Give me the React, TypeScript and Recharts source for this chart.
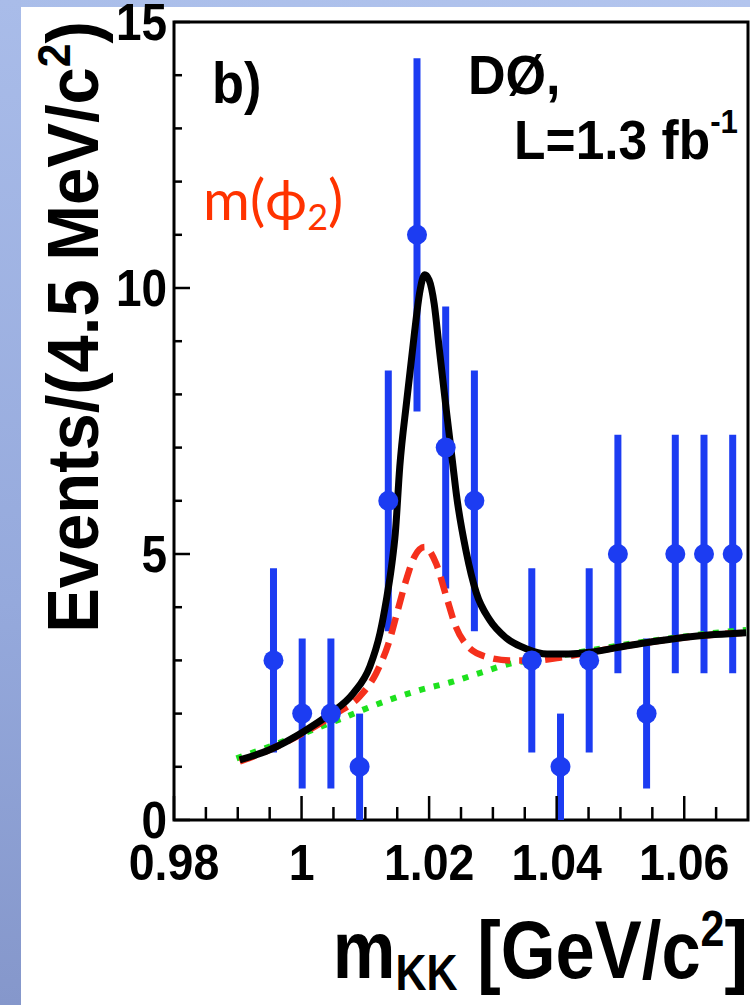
import React from "react";
import {
  ComposedChart,
  XAxis,
  YAxis,
  Line,
  Scatter,
  ErrorBar,
  ReferenceArea,
  Label,
} from "recharts";

// data points: bin centres (GeV/c^2), counts and their errors
const binCenters = [
  0.9956, 1.0001, 1.0046, 1.0091, 1.0136, 1.0181, 1.0226, 1.0271, 1.0361,
  1.0406, 1.0451, 1.0496, 1.0541, 1.0586, 1.0631, 1.0676,
];
const counts = [3, 2, 2, 1, 6, 11, 7, 6, 3, 1, 3, 5, 2, 5, 5, 5];
const countErrors = [
  1.73, 1.41, 1.41, 1.0, 2.45, 3.32, 2.65, 2.45, 1.73, 1.0, 1.73, 2.24, 1.41,
  2.24, 2.24, 2.24,
];

// total fit (black)
const totalX = [
  0.9903, 0.995, 1.0003, 1.0044, 1.0081, 1.0107, 1.0123, 1.0133, 1.0141,
  1.0147, 1.0154, 1.0165, 1.0177, 1.0185, 1.0193, 1.02, 1.0208, 1.0216,
  1.0227, 1.0237, 1.0243, 1.0258, 1.0274, 1.0295, 1.0321, 1.0352, 1.0385,
  1.042, 1.0456, 1.0508, 1.0561, 1.0613, 1.0697,
];
const totalY = [
  1.13, 1.32, 1.66, 1.99, 2.38, 2.88, 3.51, 4.14, 4.76, 5.39, 6.64, 7.89,
  9.15, 9.9, 10.25, 10.15, 9.7, 8.85, 7.7, 6.7, 6.1, 5.05, 4.27, 3.76, 3.42,
  3.22, 3.12, 3.12, 3.16, 3.27, 3.37, 3.45, 3.52,
];

// phi2 component + background (red dashed)
const phi2X = [
  0.9903, 0.995, 1.0002, 1.0054, 1.0091, 1.0117, 1.0138, 1.0151, 1.0164,
  1.0177, 1.0193, 1.0211, 1.0227, 1.0242, 1.0261, 1.0289, 1.0326, 1.0368,
  1.0404, 1.0456, 1.0508, 1.0561, 1.0613, 1.0697,
];
const phi2Y = [
  1.1, 1.32, 1.63, 2.0, 2.32, 2.76, 3.38, 3.95, 4.51, 4.95, 5.13, 4.82, 4.2,
  3.63, 3.26, 3.07, 3.0, 3.0, 3.05, 3.16, 3.27, 3.37, 3.45, 3.52,
];

// background (green dotted)
const bkgX = [
  0.9898, 0.995, 0.9997, 1.0044, 1.007, 1.0096, 1.0138, 1.0185, 1.0237,
  1.0279, 1.0331, 1.0362, 1.042, 1.0508, 1.06, 1.0675, 1.0697,
];
const bkgY = [
  1.16, 1.38, 1.6, 1.82, 1.94, 2.07, 2.26, 2.44, 2.6, 2.76, 2.95, 3.0, 3.12,
  3.3, 3.45, 3.55, 3.57,
];

const xTicks = [
  0.98, 0.985, 0.99, 0.995, 1.0, 1.005, 1.01, 1.015, 1.02, 1.025, 1.03, 1.035,
  1.04, 1.045, 1.05, 1.055, 1.06, 1.065,
];
const xTickLabels = ["0.98", "1", "1.02", "1.04", "1.06"];
const yTicks = [0, 1, 2, 3, 4, 5, 6, 7, 8, 9, 10, 11, 12, 13, 14, 15];
const yTickLabels = ["0", "5", "10", "15"];

const points = binCenters.map((x, i) => ({ x, y: counts[i], err: countErrors[i] }));
const toLine = (xs: number[], ys: number[]) => xs.map((x, i) => ({ x, y: ys[i] }));

const FONT = "'Liberation Sans', Arial, Helvetica, sans-serif";
const BLUE = "#1c3cf2";

const XTick = (props: any) => {
  const { x, y, payload } = props;
  const label = xTickLabels.find((l) => Math.abs(Number(l) - payload.value) < 1e-6);
  const len = label ? 24 : 13;
  return (
    <g>
      <line x1={x} y1={y} x2={x} y2={y - len} stroke="#000" strokeWidth={2.5} />
      {label && (
        <text
          transform={`translate(${x},${y + 60}) scale(0.93,1)`}
          textAnchor="middle"
          fontSize={50}
          fontWeight="bold"
          fontFamily={FONT}
          fill="#000"
        >
          {label}
        </text>
      )}
    </g>
  );
};

const YTick = (props: any) => {
  const { x, y, payload } = props;
  const label = yTickLabels.find((l) => Number(l) === payload.value);
  const len = label ? 16 : 8;
  return (
    <g>
      <line x1={x} y1={y} x2={x + len} y2={y} stroke="#000" strokeWidth={2.5} />
      {label && (
        <text
          transform={`translate(${x - 7},${y + 18}) scale(0.9,1)`}
          textAnchor="end"
          fontSize={51}
          fontWeight="bold"
          fontFamily={FONT}
          fill="#000"
        >
          {label}
        </text>
      )}
    </g>
  );
};

const XTitle = (props: any) => {
  const { viewBox } = props;
  const right = viewBox.x + viewBox.width;
  const base = viewBox.y + 158;
  return (
    <text
      transform={`translate(${right},${base}) scale(0.86,1)`}
      textAnchor="end"
      fontSize={82}
      fontWeight="bold"
      fontFamily={FONT}
      fill="#000"
    >
      m
      <tspan fontSize={50} dy={12}>KK</tspan>
      <tspan dy={-12}> [GeV/c</tspan>
      <tspan fontSize={50} dy={-32}>2</tspan>
      <tspan dy={32}>]</tspan>
    </text>
  );
};

const YTitle = (props: any) => {
  const { viewBox } = props;
  return (
    <text
      transform={`translate(${viewBox.x + 98},${viewBox.y + 305}) rotate(-90) scale(0.93,1)`}
      textAnchor="middle"
      fontSize={72}
      fontWeight="bold"
      fontFamily={FONT}
      fill="#000"
    >
      Events/(4.5 MeV/c
      <tspan fontSize={46} dy={-28}>2</tspan>
      <tspan dy={28}>)</tspan>
    </text>
  );
};

export default function App() {
  return (
    <div
      style={{
        position: "absolute",
        left: 0,
        top: 0,
        width: 750,
        height: 1005,
        background: "#fff",
        overflow: "hidden",
      }}
    >
      <div
        style={{
          position: "absolute",
          left: 0,
          top: 0,
          width: 750,
          height: 7,
          background: "linear-gradient(90deg, #a9bde9, #b3c5ee)",
        }}
      />
      <div
        style={{
          position: "absolute",
          left: 0,
          top: 0,
          width: 21,
          height: 1005,
          background: "linear-gradient(180deg, #a9bce9, #95a9dc 60%, #8597cb)",
        }}
      />
      <div style={{ position: "absolute", left: 0, top: 0 }}>
        <ComposedChart
          width={750}
          height={1005}
          margin={{ top: 22, right: 2, bottom: 125, left: 0 }}
        >
          <XAxis
            dataKey="x"
            type="number"
            domain={[0.98, 1.07]}
            ticks={xTicks}
            interval={0}
            allowDataOverflow
            height={60}
            tickSize={0}
            tickMargin={0}
            axisLine={false}
            tickLine={false}
            tick={<XTick />}
          >
            <Label content={<XTitle />} />
          </XAxis>
          <YAxis
            dataKey="y"
            type="number"
            domain={[0, 15]}
            ticks={yTicks}
            interval={0}
            allowDataOverflow
            width={174}
            tickSize={0}
            tickMargin={0}
            axisLine={false}
            tickLine={false}
            tick={<YTick />}
          >
            <Label content={<YTitle />} />
          </YAxis>
          <ReferenceArea
            x1={0.98}
            x2={1.07}
            y1={0}
            y2={15}
            fill="none"
            stroke="#000"
            strokeWidth={3}
            ifOverflow="visible"
          />
          <Scatter
            data={points}
            dataKey="y"
            fill={BLUE}
            isAnimationActive={false}
            shape={(p: any) => <circle cx={p.cx} cy={p.cy} r={10} fill={BLUE} />}
          >
            <ErrorBar
              dataKey="err"
              direction="y"
              width={0}
              stroke={BLUE}
              strokeWidth={7}
              isAnimationActive={false}
            />
          </Scatter>
          <Line
            data={toLine(bkgX, bkgY)}
            dataKey="y"
            type="monotone"
            stroke="#1ee11e"
            strokeWidth={6}
            strokeDasharray="6 9"
            dot={false}
            isAnimationActive={false}
          />
          <Line
            data={toLine(phi2X, phi2Y)}
            dataKey="y"
            type="monotone"
            stroke="#f5301c"
            strokeWidth={6.5}
            strokeDasharray="17 9"
            dot={false}
            isAnimationActive={false}
          />
          <Line
            data={toLine(totalX, totalY)}
            dataKey="y"
            type="monotone"
            stroke="#000"
            strokeWidth={7}
            dot={false}
            isAnimationActive={false}
          />
        </ComposedChart>
      </div>
      <svg
        width={750}
        height={1005}
        style={{ position: "absolute", left: 0, top: 0, pointerEvents: "none" }}
      >
        <text
          transform="translate(212,103) scale(0.92,1)"
          fontSize={57}
          fontWeight="bold"
          fontFamily={FONT}
        >
          b)
        </text>
        <text
          transform="translate(468,94) scale(0.93,1)"
          fontSize={56}
          fontWeight="bold"
          fontFamily={FONT}
        >
          DØ,
        </text>
        <text
          transform="translate(738,159) scale(0.92,1)"
          textAnchor="end"
          fontSize={56}
          fontWeight="bold"
          fontFamily={FONT}
        >
          L=1.3 fb
          <tspan fontSize={34} dy={-26}>-1</tspan>
        </text>
        <text x={203} y={220} fontSize={57} fill="#ff3300" fontFamily="Lato, 'Open Sans', sans-serif">
          m(ϕ
          <tspan fontSize={36} dy={10}>2</tspan>
          <tspan dy={-10}>)</tspan>
        </text>
      </svg>
    </div>
  );
}
